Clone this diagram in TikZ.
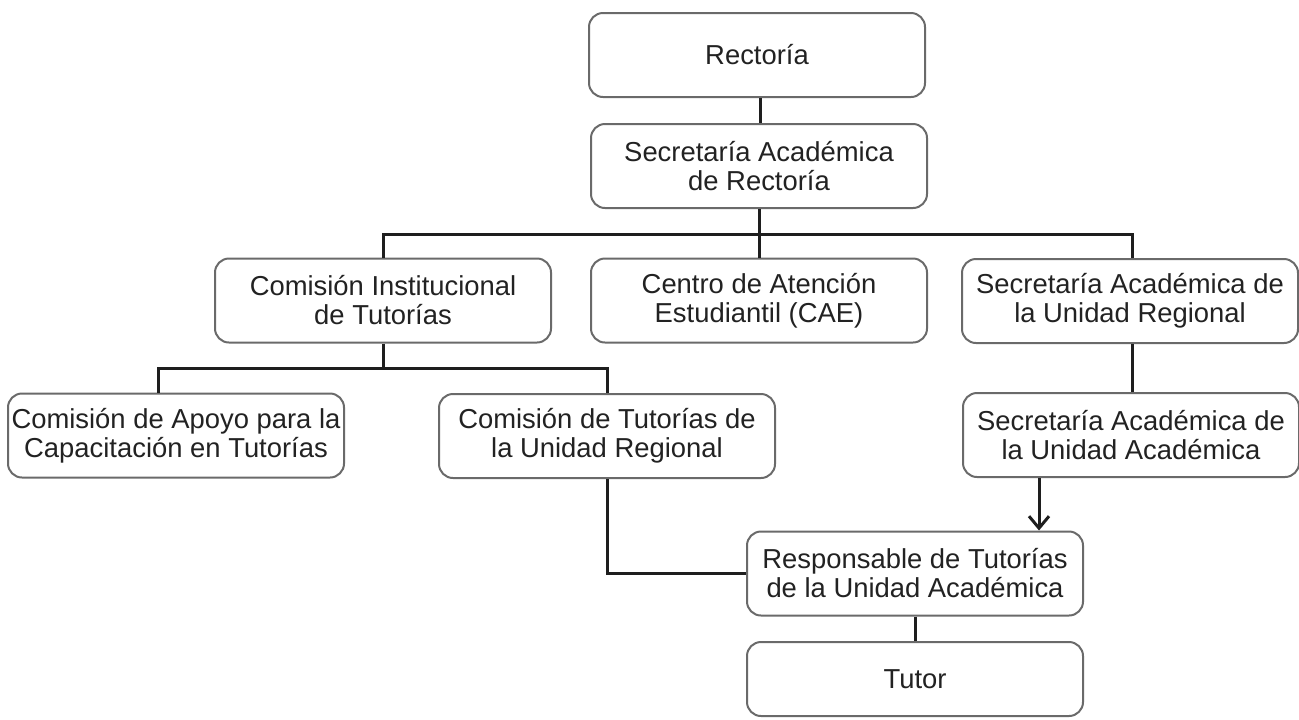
\documentclass[tikz,border=0pt]{standalone}
\usepackage{fontspec}
\setmainfont{Liberation Sans}
\usetikzlibrary{arrows.meta}
\definecolor{boxline}{HTML}{6A6A6A}
\definecolor{txt}{HTML}{222222}
\definecolor{connc}{HTML}{1E1E1E}
\begin{document}
\begin{tikzpicture}[x=0.5pt,y=-0.5pt,
  orgbox/.style={draw=boxline, line width=1pt, rounded corners=7pt,
    minimum width=168pt, minimum height=42pt, inner sep=0pt, align=center,
    text=txt, font=\fontsize{13.7}{14.5}\selectfont, fill=white},
  conn/.style={draw=connc, line width=1.5pt},
  arr/.style={-{Straight Barb[length=6pt,width=10pt,line width=1.5pt]}}]
\useasboundingbox (0,0) rectangle (1299,719);
\node[orgbox] (rect) at (757,55) {Rectoría};
\node[orgbox] (secar) at (759,166) {Secretaría Académica\\de Rectoría};
\node[orgbox] (cominst) at (383,300.5) {Comisión Institucional\\de Tutorías};
\node[orgbox] (centro) at (759,300.5) {Centro de Atención\\Estudiantil (CAE)};
\node[orgbox] (secur) at (1130,301) {Secretaría Académica de\\la Unidad Regional};
\node[orgbox] (apoyo) at (176,435.5) {Comisión de Apoyo para la\\Capacitación en Tutorías};
\node[orgbox] (comtut) at (607,436) {Comisión de Tutorías de\\la Unidad Regional};
\node[orgbox] (secua) at (1131,435) {Secretaría Académica de\\la Unidad Académica};
\node[orgbox] (resp) at (915,573.5) {Responsable de Tutorías\\de la Unidad Académica};
\node[orgbox, minimum height=37pt] (tutor) at (915,679) {Tutor};
\coordinate (bus) at (759,234);
\coordinate (bustwo) at (383,368);
\draw[conn] ([xshift=1.5pt]rect.south) -- ([xshift=1.5pt]rect.south |- secar.north);
\draw[conn] (secar.south) -- (centro.north);
\draw[conn] (cominst.north) -- (cominst.north |- bus) -- ([xshift=1pt]secur.north |- bus) -- ([xshift=1pt]secur.north);
\draw[conn] (cominst.south) -- (bustwo);
\draw[conn] ([xshift=-9pt]apoyo.north) |- (comtut.north |- bustwo) -- (comtut.north);
\draw[conn] (comtut.south) |- (resp.west);
\draw[conn] ([xshift=1pt]secur.south) -- ([xshift=1pt]secur.south |- secua.north);
\draw[conn, arr] ([xshift=-46pt]secua.south) -- ([xshift=-46pt]secua.south |- resp.north);
\draw[conn] (resp) -- (tutor);
\end{tikzpicture}
\end{document}
